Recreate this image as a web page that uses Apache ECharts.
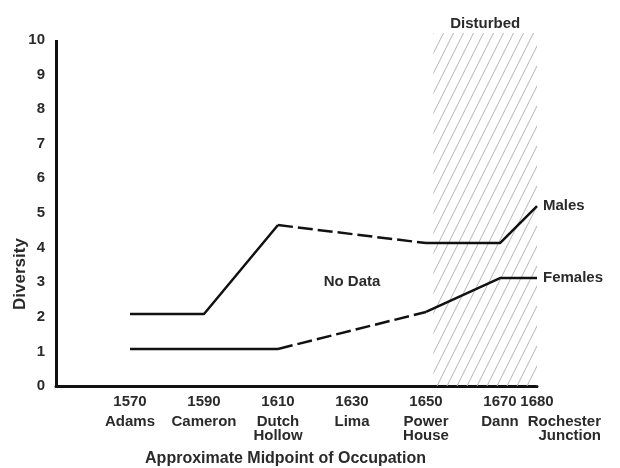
<!DOCTYPE html>
<html><head><meta charset="utf-8">
<script src="https://cdn.jsdelivr.net/npm/echarts@6/dist/echarts.min.js"></script>
<style>html,body{margin:0;padding:0;background:#fff}#c{width:620px;height:468px}</style>
</head><body><div id="c"></div>
<script>
// ---- data ----
const years = [1570, 1590, 1610, 1650, 1670, 1680];
const males = [2.08, 2.08, 4.65, 4.13, 4.13, 5.2];
const females = [1.07, 1.07, 1.07, 2.14, 3.12, 3.12];
const tickYears = [1570, 1590, 1610, 1630, 1650, 1670, 1680];
const tickSites = ['Adams', 'Cameron', 'Dutch\nHollow', 'Lima', 'Power\nHouse', 'Dann', 'Rochester\nJunction'];
const gapFromIndex = 2, gapToIndex = 3;   // no data between 1610 and 1650 (dashed)
const disturbedRange = [1652, 1680];
const noDataAt = [1630, 3.0];
const yMin = 0, yMax = 10;

// ---- helpers ----
function seg(vals, i0, i1) {
  const out = [];
  for (let i = i0; i <= i1; i++) out.push([years[i], vals[i]]);
  return out;
}
function hatchPattern() {
  const c = document.createElement('canvas');
  c.width = 10; c.height = 20;
  const g = c.getContext('2d');
  g.strokeStyle = '#b4b4b4'; g.lineWidth = 1;
  [-10, 0, 10].forEach(dx => {
    g.beginPath(); g.moveTo(-1 + dx, 22); g.lineTo(11 + dx, -2); g.stroke();
  });
  return c;
}
const FONT = 'Liberation Sans';
const FS = 15;
const TXT = '#2a2a2a';
const LINE = '#111';
const lineStyleSolid = { color: LINE, width: 2.5, type: 'solid' };
const lineStyleDash = { color: LINE, width: 2.5, type: [15, 5] };
const last = years.length - 1;
const lastTick = tickYears[tickYears.length - 1];
const GRID = { left: 56, right: 83, top: 33, bottom: 82, containLabel: false, outerBoundsMode: 'none' };
const X_MIN = 1550;

const txt = { color: TXT, fontFamily: FONT, fontWeight: 'bold', fontSize: FS };
function endLab(text) {
  return Object.assign({ show: true, formatter: text, distance: 6 }, txt);
}
const richBase = {
  y: Object.assign({ lineHeight: 26 }, txt),
  n: Object.assign({ lineHeight: 14 }, txt),
  r: Object.assign({ lineHeight: 14, align: 'right', width: 128 }, txt)
};
function tickLabel(v, nameStyle) {
  const i = tickYears.indexOf(v);
  return '{y|' + v + '}\n' + tickSites[i].split('\n').map(p => '{' + nameStyle + '|' + p + '}').join('\n');
}

const chart = echarts.init(document.getElementById('c'), null, { renderer: 'canvas' });
chart.setOption({
  backgroundColor: '#fff',
  animation: false,
  grid: [Object.assign({}, GRID), Object.assign({}, GRID)],
  xAxis: [{
    gridIndex: 0, type: 'value', min: X_MIN, max: lastTick, interval: 10,
    axisLine: { show: true, lineStyle: { color: LINE, width: 3 } },
    axisTick: { show: false }, splitLine: { show: false },
    axisLabel: Object.assign({
      margin: 3, showMaxLabel: false, rich: richBase,
      formatter: v => (tickYears.indexOf(v) < 0 || v === lastTick) ? '' : tickLabel(v, 'n')
    }, txt),
    name: 'Approximate Midpoint of Occupation', nameLocation: 'middle', nameGap: 65,
    nameTextStyle: { color: TXT, fontFamily: FONT, fontWeight: 'bold', fontSize: 16, padding: [0, 22, 0, 0] }
  }, {
    gridIndex: 1, type: 'value', min: X_MIN, max: lastTick, interval: 10,
    axisLine: { show: false }, axisTick: { show: false }, splitLine: { show: false },
    axisLabel: Object.assign({
      margin: 3, showMaxLabel: true, rich: richBase,
      formatter: v => (v === lastTick) ? tickLabel(v, 'r') : ''
    }, txt)
  }],
  yAxis: [{
    gridIndex: 0, type: 'value', min: yMin, max: 10.2, interval: 1,
    axisLine: { show: false }, axisTick: { show: false }, splitLine: { show: false },
    axisLabel: Object.assign({
      margin: 11,
      formatter: v => (Number.isInteger(v) && v <= yMax) ? String(v) : ''
    }, txt)
  }, {
    gridIndex: 1, type: 'value', min: yMin, max: 10.2, show: false
  }],
  graphic: [{
    type: 'text', x: 20, y: 274, rotation: Math.PI / 2,
    style: { text: 'Diversity', fill: TXT, font: 'bold 17px "Liberation Sans"', textAlign: 'center', textVerticalAlign: 'middle' }
  }],
  series: [
    {
      type: 'line', z: 1, data: [[disturbedRange[1], yMin]], showSymbol: false, symbol: 'none',
      lineStyle: { width: 0 }, silent: true,
      markArea: {
        silent: true,
        itemStyle: { color: { image: hatchPattern(), repeat: 'repeat' }, opacity: 1, borderWidth: 0 },
        label: Object.assign({ show: true, position: 'top', distance: 2, formatter: 'Disturbed' }, txt),
        data: [[{ coord: [disturbedRange[0], yMin] }, { coord: [disturbedRange[1], 10.2] }]]
      },
      markLine: {
        silent: true, symbol: ['none', 'none'], label: { show: false },
        lineStyle: { color: LINE, width: 3, type: 'solid' },
        data: [[{ coord: [X_MIN, yMin] }, { coord: [X_MIN, yMax] }]]
      },
      markPoint: {
        silent: true, symbol: 'circle', symbolSize: 0,
        label: Object.assign({ show: true, position: 'inside', formatter: 'No Data' }, txt),
        data: [{ coord: noDataAt }]
      }
    },
    { type: 'line', z: 3, symbol: 'none', data: seg(males, 0, gapFromIndex), lineStyle: lineStyleSolid },
    { type: 'line', z: 3, symbol: 'none', data: seg(males, gapFromIndex, gapToIndex), lineStyle: lineStyleDash },
    { type: 'line', z: 3, symbol: 'none', data: seg(males, gapToIndex, last), lineStyle: lineStyleSolid, endLabel: endLab('Males') },
    { type: 'line', z: 3, symbol: 'none', data: seg(females, 0, gapFromIndex), lineStyle: lineStyleSolid },
    { type: 'line', z: 3, symbol: 'none', data: seg(females, gapFromIndex, gapToIndex), lineStyle: lineStyleDash },
    { type: 'line', z: 3, symbol: 'none', data: seg(females, gapToIndex, last), lineStyle: lineStyleSolid, endLabel: endLab('Females') }
  ]
});
</script>
</body></html>
